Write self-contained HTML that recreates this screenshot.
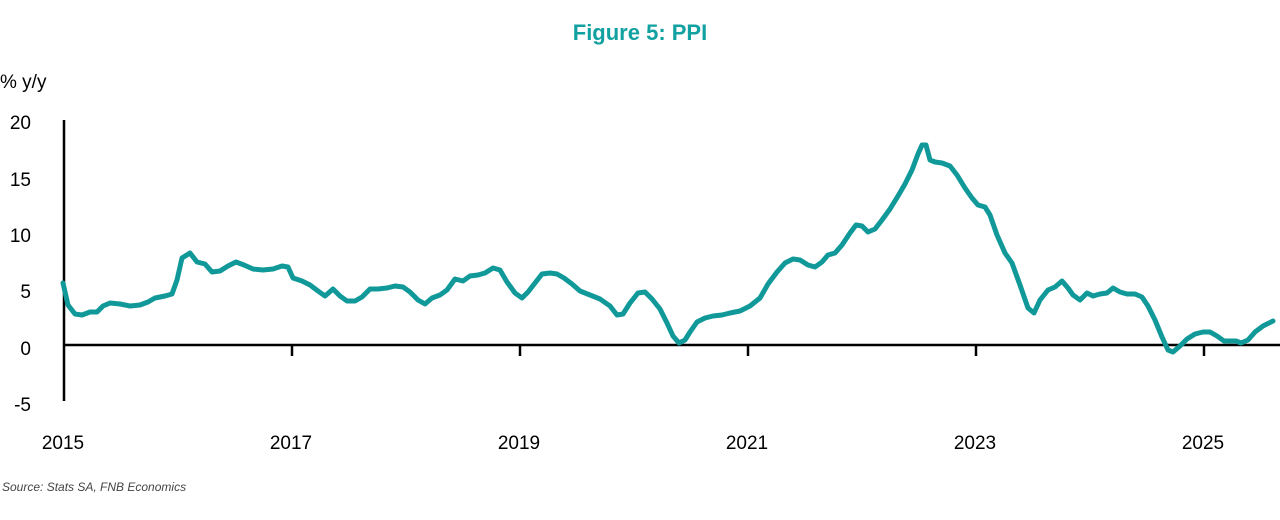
<!DOCTYPE html>
<html><head><meta charset="utf-8"><style>
body{margin:0;background:#fff;width:1280px;height:520px;overflow:hidden}
svg{display:block}
</style></head><body>
<svg width="1280" height="520" xmlns="http://www.w3.org/2000/svg" font-family="Liberation Sans, Arial, sans-serif">
<text x="640" y="40" text-anchor="middle" font-size="22" font-weight="bold" fill="#12a1a1" font-family="Liberation Sans Narrow, Liberation Sans, sans-serif">Figure 5: PPI</text>
<text x="0" y="88" font-size="19" fill="#000">% y/y</text>
<g font-size="19" fill="#000" text-anchor="end">
<text x="31" y="129">20</text>
<text x="31" y="186">15</text>
<text x="31" y="242">10</text>
<text x="31" y="298">5</text>
<text x="31" y="355">0</text>
<text x="31" y="411">-5</text>
</g>
<g font-size="19" fill="#000" text-anchor="middle">
<text x="63" y="449">2015</text>
<text x="291" y="449">2017</text>
<text x="519" y="449">2019</text>
<text x="747" y="449">2021</text>
<text x="975" y="449">2023</text>
<text x="1203" y="449">2025</text>
</g>
<text x="2" y="491" font-size="12" font-style="italic" fill="#444">Source: Stats SA, FNB Economics</text>
<g stroke="#000" stroke-width="2.5">
<line x1="64" y1="120" x2="64" y2="401"/>
<line x1="63" y1="345" x2="1280" y2="345"/>
<line x1="292" y1="345" x2="292" y2="356"/>
<line x1="520" y1="345" x2="520" y2="356"/>
<line x1="748" y1="345" x2="748" y2="356"/>
<line x1="976" y1="345" x2="976" y2="356"/>
<line x1="1204" y1="345" x2="1204" y2="356"/>
</g>
<polyline fill="none" stroke="#11999a" stroke-width="5" stroke-linejoin="round" stroke-linecap="round" points="63,283 68,305 75,314 82,315 90,312 97,312 103,306 110,303 120,304 130,306 140,305 148,302 155,298 165,296 172,294 177,280 182,258 190,253 197,262 205,264 212,272 220,271 228,266 236,262 244,265 253,269 263,270 273,269 282,266 288,267 293,278 302,281 310,285 318,291 325,296 333,289 340,296 347,301 355,301 362,297 370,289 378,289 387,288 395,286 403,287 410,292 418,300 425,304 432,298 440,295 447,290 455,279 463,281 470,276 478,275 485,273 493,268 500,270 507,282 515,293 522,298 528,292 535,283 542,274 550,273 557,274 564,278 572,284 580,291 590,295 600,299 610,306 617,315 623,314 630,303 638,293 645,292 652,299 660,309 667,323 673,336 679,343 685,340 690,332 697,322 705,318 713,316 722,315 730,313 740,311 750,306 760,298 768,284 777,272 785,263 793,259 800,260 808,265 815,267 822,262 828,255 835,253 842,245 850,233 856,225 862,226 868,232 875,229 882,220 890,209 898,196 905,184 912,170 918,154 922,145 926,145 930,160 935,162 942,163 950,166 957,175 965,188 972,198 978,205 985,207 990,215 997,235 1005,253 1012,263 1020,285 1028,308 1034,313 1040,300 1048,290 1055,287 1062,281 1068,288 1073,295 1080,300 1087,293 1093,296 1100,294 1107,293 1113,288 1120,292 1127,294 1135,294 1142,297 1148,306 1155,320 1162,337 1168,350 1173,352 1180,346 1187,339 1195,334 1203,332 1210,332 1217,336 1224,341 1230,341 1236,341 1241,343 1248,340 1255,332 1263,326 1273,321"/>
</svg>
</body></html>
